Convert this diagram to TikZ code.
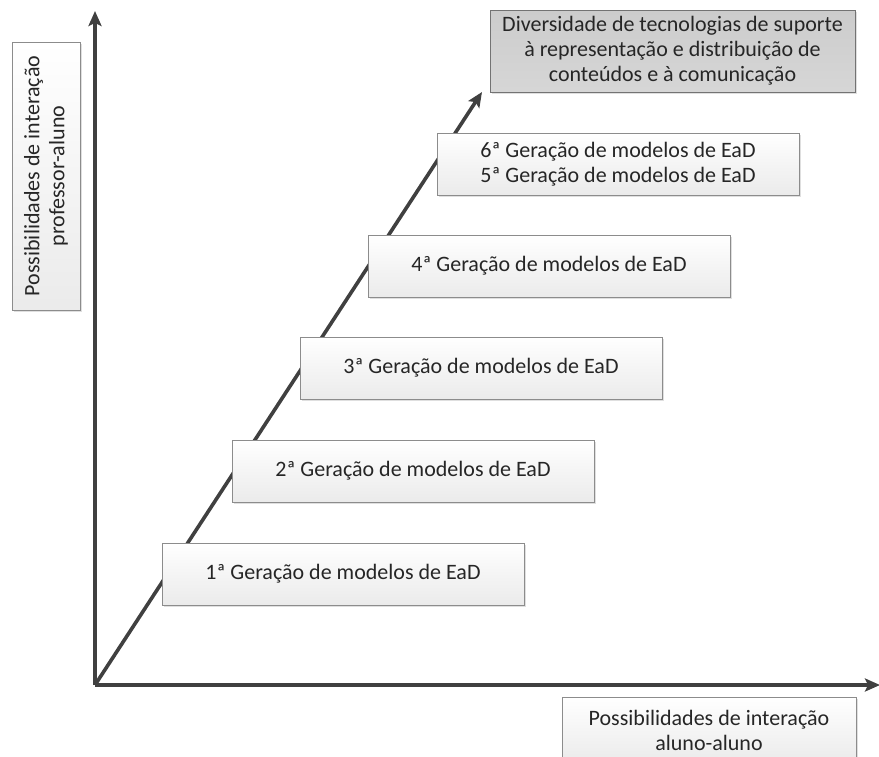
\documentclass[tikz,border=0pt]{standalone}
\usepackage{fontspec}
\setmainfont{Carlito}
\usetikzlibrary{arrows.meta,positioning,shadows}
\definecolor{axisgray}{HTML}{404040}
\definecolor{boxline}{HTML}{8C8C8C}
\tikzset{
  blk/.style={draw=boxline,rectangle,line width=1pt,align=center,inner sep=0pt,
    top color=white,bottom color=black!8,text=black!85,
    font=\fontsize{22}{25}\selectfont,
    drop shadow={opacity=0.25,shadow xshift=2pt,shadow yshift=-2pt}},
  genblk/.style={blk,minimum width=362pt,minimum height=62pt},
  techblk/.style={blk,top color=black!20,bottom color=black!16,draw=black!55},
  axis/.style={-{Stealth[length=15pt,width=13pt,inset=3pt]},line width=3.6pt,draw=axisgray}
}
\begin{document}
\begin{tikzpicture}[x=1pt,y=-1pt]
  \useasboundingbox (0,0) rectangle (879,756);
  \coordinate (o) at (95,685);
  \coordinate (ytip) at (95,11);
  \coordinate (xtip) at (880,685);
  \coordinate (dtip) at (482,92);

  % labels of the axes
  \node[blk,rotate=90,minimum width=268pt,minimum height=68pt] (ylab) at (46,176)
    {Possibilidades de interação\\professor-aluno};
  \node[blk,minimum width=294pt,minimum height=66pt] (xlab) at (709,730)
    {Possibilidades de interação\\aluno-aluno};

  % axes and growth arrow
  \draw[axis] (o) -- (ytip);
  \draw[axis] (o) -- (xtip);
  \draw[axis] (o) -- (dtip);

  % generations
  \node[genblk] (g1) at (343,574) {1ª Geração de modelos de EaD};
  \node[genblk] (g2) at (413,471) {2ª Geração de modelos de EaD};
  \node[genblk] (g3) at (481,368) {3ª Geração de modelos de EaD};
  \node[genblk] (g4) at (549,266) {4ª Geração de modelos de EaD};
  \node[genblk] (g56) at (618,164) {6ª Geração de modelos de EaD\\5ª Geração de modelos de EaD};

  \node[techblk,minimum width=365pt,minimum height=82pt] (tech) at (672.5,51)
    {Diversidade de tecnologias de suporte\\à representação e distribuição de\\conteúdos e à comunicação};
\end{tikzpicture}
\end{document}
